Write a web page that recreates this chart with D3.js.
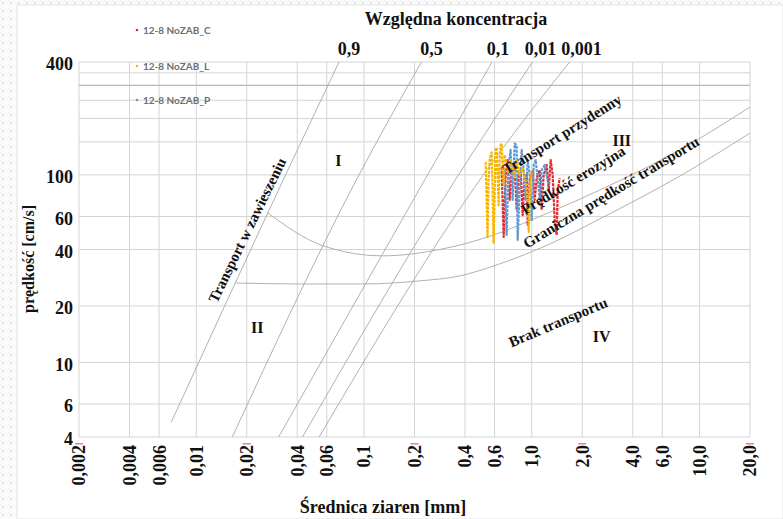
<!DOCTYPE html>
<html>
<head>
<meta charset="utf-8">
<script src="https://cdn.jsdelivr.net/npm/d3@7"></script>
<style>
html,body{margin:0;padding:0;background:#fff;}
svg{display:block;}
</style>
</head>
<body>
<svg id="chart" width="783" height="519"></svg>
<script>
// ---------- data ----------
const xTicks = [0.002,0.004,0.006,0.01,0.02,0.04,0.06,0.1,0.2,0.4,0.6,1,2,4,6,10,20];
const xTickLabels = ["0,002","0,004","0,006","0,01","0,02","0,04","0,06","0,1","0,2","0,4","0,6","1,0","2,0","4,0","6,0","10,0","20,0"];
const yGrid = [4,6,10,20,40,60,100,150,200,250,300,350,400];
const yTicks = [4,6,10,20,40,60,100,400];

const concLabels = ["0,9","0,5","0,1","0,01","0,001"];
const conc09   = [[0.0071,4.8],[0.033,94],[0.071,400]];
const conc05   = [[0.0164,4],[0.090,94],[0.22,400]];
const conc01   = [[0.031,4],[0.23,94],[0.58,400]];
const conc001  = [[0.043,4],[0.35,94],[1.01,400]];
const conc0001 = [[0.054,4],[0.49,94],[1.68,400]];

const erosionD = [0.0265,0.0565,0.129,0.282,0.561,1.115,2.54,7.64,20];
const erosionV = [63,42,37,40,47,60,83,136,230];
const transportD = [0.0173,0.0412,0.098,0.214,0.371,0.643,1.28,2.54,7.64,20];
const transportV = [26.5,26.2,26.2,27.2,28.9,33.5,42.8,58.2,98.6,167];

const seriesNames = ["12-8 NoZAB_C","12-8 NoZAB_L","12-8 NoZAB_P"];
const seriesC_d = [0.661,0.680,0.699,0.718,0.738,0.759,0.791,0.813,0.835,0.859,0.883,0.907,0.933,0.946,0.972,1.013,1.041,1.070,1.115,1.146,1.178,1.228,1.262,1.297,1.333,1.370,1.408,1.428,1.468];
const seriesC_v = [110,46.7,100,120,73.5,106,113,65,100,106,61,96,100,54,94,106,73.5,96,106,65,100,113,83,120,100,57.5,47.8,83,96];
const seriesL_d = [0.531,0.538,0.545,0.553,0.561,0.576,0.584,0.592,0.600,0.609,0.617,0.626,0.635,0.643,0.652,0.661,0.670,0.680,0.689,0.708,0.728,0.748,0.769,0.791,0.813,0.847,0.883,0.920,0.946,0.959,0.972,0.999];
const seriesL_v = [117,73.5,46.1,94,120,132,83,43.5,73.5,136,140,100,69,120,144,147,106,88,128,113,104,120,109,96,120,100,109,92,73.5,49.6,83,104];
const seriesP_d = [0.689,0.708,0.728,0.748,0.769,0.791,0.813,0.824,0.847,0.871,0.895,0.920,0.946,0.972,0.999,1.027,1.056,1.085,1.115,1.146,1.194,1.228,1.262];
const seriesP_v = [106,47.8,113,136,73.5,147,144,45,83,136,106,73.5,120,100,57.5,113,120,94,73.5,106,113,100,88];

const regionLabels = ["I","II","III","IV"];
const regionPos = [[0.0704,120],[0.0231,15.4],[3.44,152],[2.61,13.8]];

// ---------- drawing ----------
const svg = d3.select("#chart");
const W = 783, H = 519;
const serif = "'Liberation Serif','Times New Roman',serif";

// background texture
const defs = svg.append("defs");
const pat = defs.append("pattern").attr("id","dots").attr("width",8).attr("height",8).attr("patternUnits","userSpaceOnUse");
pat.append("rect").attr("width",8).attr("height",8).attr("fill","#fafafa");
pat.append("rect").attr("x",2).attr("y",2).attr("width",2).attr("height",2).attr("fill","#e4e4e4");
svg.append("rect").attr("width",W).attr("height",H).attr("fill","url(#dots)");
svg.append("rect").attr("x",17).attr("y",5).attr("width",W-17).attr("height",H-5)
   .attr("fill","#fff").attr("stroke","#e2e2e2");

const x = d3.scaleLog().domain([0.002,20]).range([79,750]);
const y = d3.scaleLog().domain([4,400]).range([437,62]);
const X0 = x.range()[0], X1 = x.range()[1], Y0 = y.range()[0], Y1 = y.range()[1];

// grid
const grid = svg.append("g");
grid.selectAll("line.v").data(xTicks).join("line")
  .attr("x1",d=>x(d)).attr("x2",d=>x(d)).attr("y1",Y1).attr("y2",Y0)
  .attr("stroke","#d4d4d4").attr("stroke-width",1);
grid.selectAll("line.h").data(yGrid).join("line")
  .attr("x1",X0).attr("x2",X1).attr("y1",d=>y(d)).attr("y2",d=>y(d))
  .attr("stroke",d=>d===300?"#b8b8b8":"#d4d4d4").attr("stroke-width",d=>d===300?1.3:1);

// concentration lines
const line = d3.line().x(d=>x(d[0])).y(d=>y(d[1])).curve(d3.curveMonotoneX);
const concs = [conc09,conc05,conc01,conc001,conc0001];
svg.append("g").selectAll("path").data(concs).join("path")
  .attr("d",line).attr("fill","none").attr("stroke","#a8a8a8").attr("stroke-width",0.9);

// curves
const eros = erosionD.map((d,i)=>[d,erosionV[i]]);
const trans = transportD.map((d,i)=>[d,transportV[i]]);
svg.append("path").attr("d",line(eros)).attr("fill","none").attr("stroke","#a8a8a8").attr("stroke-width",0.9);
svg.append("path").attr("d",line(trans)).attr("fill","none").attr("stroke","#a8a8a8").attr("stroke-width",0.9);

// concentration labels on top
const offs = [10,10,6,8,12];
svg.append("g").selectAll("text").data(concs).join("text")
  .attr("x",(c,i)=>x(c[c.length-1][0])+offs[i]).attr("y",55)
  .attr("text-anchor","middle").attr("font-family",serif).attr("font-weight","bold")
  .attr("font-size",18).attr("fill","#111").text((c,i)=>concLabels[i]);

svg.append("text").attr("x",456).attr("y",25).attr("text-anchor","middle")
  .attr("font-family",serif).attr("font-weight","bold").attr("font-size",18).attr("fill","#111")
  .text("Względna koncentracja");

// y tick labels
svg.append("g").selectAll("text").data(yTicks).join("text")
  .attr("x",73).attr("y",d=>y(d)+2).attr("dy","0.36em").attr("text-anchor","end")
  .attr("font-family",serif).attr("font-weight","bold").attr("font-size",18).attr("fill","#111")
  .text(d=>d);

// x tick labels
svg.append("g").selectAll("text").data(xTicks).join("text")
  .attr("transform",d=>`translate(${x(d)},445) rotate(-90)`)
  .attr("dy","0.36em").attr("text-anchor","end")
  .attr("font-family",serif).attr("font-weight","bold").attr("font-size",18).attr("fill","#111")
  .text((d,i)=>xTickLabels[i]);

// small red marks at decades
svg.append("g").selectAll("rect").data([0.002,0.02,0.2,2,20]).join("rect")
  .attr("x",d=>x(d)-4).attr("y",443).attr("width",8).attr("height",1.5).attr("fill","#f08080");

// axis titles
svg.append("text").attr("x",383).attr("y",513).attr("text-anchor","middle")
  .attr("font-family",serif).attr("font-weight","bold").attr("font-size",18).attr("fill","#111")
  .text("Średnica ziaren [mm]");
svg.append("text").attr("transform","translate(28,259) rotate(-90)").attr("dy","0.35em")
  .attr("text-anchor","middle").attr("font-family",serif).attr("font-weight","bold")
  .attr("font-size",16).attr("fill","#111").text("prędkość [cm/s]");

// region labels
svg.append("g").selectAll("text").data(regionLabels).join("text")
  .attr("x",(d,i)=>x(regionPos[i][0])).attr("y",(d,i)=>y(regionPos[i][1])).attr("dy","0.35em")
  .attr("text-anchor","middle").attr("font-family",serif).attr("font-weight","bold")
  .attr("font-size",16).attr("fill","#111").text(d=>d);

// series
const colors = ["#e5262a","#f7b500","#5b9bd5"];
const series = [
  seriesC_d.map((d,i)=>[d,seriesC_v[i]]),
  seriesL_d.map((d,i)=>[d,seriesL_v[i]]),
  seriesP_d.map((d,i)=>[d,seriesP_v[i]])
];
const lineS = d3.line().x(d=>x(d[0])).y(d=>y(d[1]));
const order = [0,2,1];
order.forEach(k=>{
  svg.append("path").attr("d",lineS(series[k])).attr("fill","none")
    .attr("stroke",colors[k]).attr("stroke-width",2.2).attr("stroke-dasharray","3,1")
    .attr("stroke-linejoin","round");
});

// rotated labels
const rot = [
  ["Transport w zawieszeniu",247,230,-64,15],
  ["Transport przydenny",562,134,-32,15],
  ["Prędkość erozyjna",573,180,-31,15],
  ["Graniczna prędkość transportu",611,192,-31,15],
  ["Brak transportu",558,322,-23,15]
];
svg.append("g").selectAll("text").data(rot).join("text")
  .attr("transform",d=>`translate(${d[1]},${d[2]}) rotate(${d[3]})`)
  .attr("dy","0.35em").attr("text-anchor","middle")
  .attr("font-family",serif).attr("font-weight","bold").attr("font-size",d=>d[4]).attr("fill","#111")
  .text(d=>d[0]);

// legend
const lg = svg.append("g");
seriesNames.forEach((n,i)=>{
  const ly = [30,66,100][i];
  lg.append("circle").attr("cx",137).attr("cy",ly).attr("r",1.3).attr("fill",colors[i]);
  lg.append("text").attr("x",143).attr("y",ly).attr("dy","0.35em")
    .attr("font-family","Lato,'Open Sans',sans-serif").attr("font-weight","bold")
    .attr("font-size",10).attr("fill","#6f6f6f").text(n);
});
</script>
</body>
</html>
